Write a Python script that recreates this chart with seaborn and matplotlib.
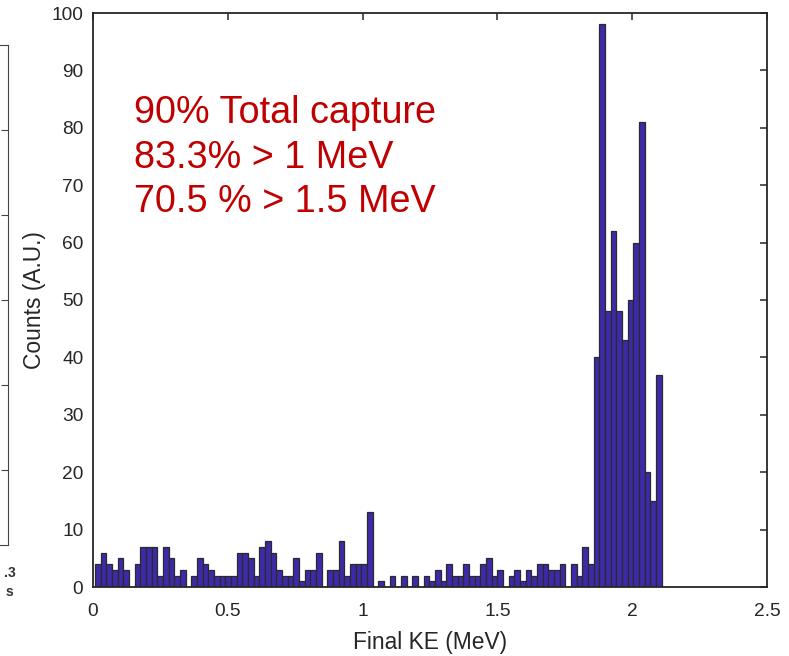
import matplotlib
matplotlib.use("Agg")
import matplotlib.pyplot as plt
import seaborn as sns
import numpy as np
import pandas as pd

# ---- data ----
bin_start = 0.0074      # MeV, left edge of first bin
bin_stop = 2.109        # MeV, right edge of last bin
counts = [4, 6, 4, 3, 5, 3, 0, 4, 7, 7,
          7, 2, 7, 5, 2, 3, 0, 2, 5, 4,
          3, 2, 2, 2, 2, 6, 6, 5, 2, 7,
          8, 6, 3, 2, 2, 5, 1, 3, 3, 6,
          0, 3, 3, 8, 2, 4, 4, 4, 13, 0,
          1, 0, 2, 0, 2, 0, 2, 0, 2, 1,
          3, 1, 4, 2, 2, 4, 2, 2, 4, 5,
          2, 3, 0, 2, 3, 1, 3, 2, 4, 4,
          3, 3, 4, 0, 4, 2, 7, 4, 40, 98,
          48, 62, 48, 43, 50, 60, 81, 20, 15, 37]
x_ticks = [0, 0.5, 1, 1.5, 2, 2.5]
x_tick_labels = ["0", "0.5", "1", "1.5", "2", "2.5"]
y_ticks = [0, 10, 20, 30, 40, 50, 60, 70, 80, 90, 100]
annotation_lines = ["90% Total capture", "83.3% > 1 MeV", "70.5 % > 1.5 MeV"]
x_label = "Final KE (MeV)"
y_label = "Counts (A.U.)"

n_bins = len(counts)
width = (bin_stop - bin_start) / n_bins
centers = bin_start + width * (np.arange(n_bins) + 0.5)
df = pd.DataFrame({"ke": centers, "counts": counts})

sns.set_theme(style="white")
plt.rcParams["font.family"] = ["Liberation Sans", "DejaVu Sans"]

W, H = 789, 656
fig = plt.figure(figsize=(W / 100, H / 100), dpi=100)
fig.patch.set_facecolor("white")

def px_axes(l, t, r, b):
    return fig.add_axes([l / W, 1 - b / H, (r - l) / W, (b - t) / H])

ax = px_axes(93, 13, 767, 587)
sns.histplot(data=df, x="ke", weights="counts", bins=n_bins,
             binrange=(bin_start, bin_stop), ax=ax,
             color="#3D2AA8", edgecolor="#2a2a2a", linewidth=0.9,
             alpha=1.0, stat="count")

ax.set_xlim(0, 2.5)
ax.set_ylim(0, 100)
ax.set_xticks(x_ticks)
ax.set_xticklabels(x_tick_labels)
ax.set_yticks(y_ticks)
ax.tick_params(direction="in", length=5, width=1.1, top=True, right=True,
               labelsize=13.8, colors="#262626")
ax.tick_params(axis="x", pad=11.5)
ax.tick_params(axis="y", pad=7)
for s in ax.spines.values():
    s.set_visible(True)
    s.set_color("#262626")
    s.set_linewidth(1.3)
ax.set_xlabel(x_label, fontsize=16.4, color="#262626", labelpad=8)
ax.set_ylabel(y_label, fontsize=16.4, color="#262626", labelpad=4)

for i, line in enumerate(annotation_lines):
    ax.text(134 / W, 1 - (123 + i * 44.5) / H, line, transform=fig.transFigure,
            fontsize=27.2, color="#C00000", ha="left", va="baseline")

# partial neighbouring panel cut off at the left edge
ax2 = px_axes(-60, 45, 8, 545)
ax2.set_facecolor("none")
ax2.set_xlim(0, 1)
ax2.set_ylim(545, 45)
ax2.set_xticks([])
ax2.set_yticks([130, 215, 300, 385, 470])
ax2.yaxis.tick_right()
ax2.tick_params(axis="y", direction="in", length=5, width=0.8,
                labelright=False, colors="#444444")
ax2.spines["left"].set_visible(False)
for k in ["right", "top", "bottom"]:
    ax2.spines[k].set_visible(True)
    ax2.spines[k].set_color("#444444")
    ax2.spines[k].set_linewidth(0.8)
fig.text(4 / W, 1 - 577 / H, ".3", fontsize=10, fontweight="bold",
         color="#333333", ha="left", va="baseline")
fig.text(6 / W, 1 - 596 / H, "s", fontsize=10, fontweight="bold",
         color="#333333", ha="left", va="baseline")

fig.savefig("out.png", dpi=100, facecolor="white")
